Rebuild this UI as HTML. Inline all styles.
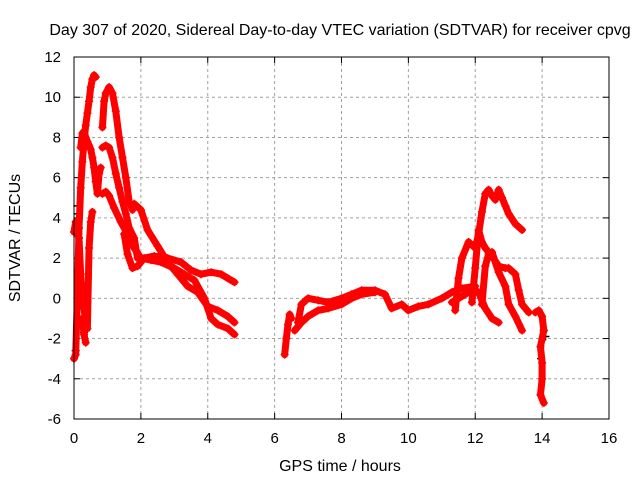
<!DOCTYPE html>
<html><head><meta charset="utf-8"><style>
body{margin:0;background:#fff;}
svg{display:block;font-family:"Liberation Sans",sans-serif;}
</style></head><body>
<svg id="chart" width="640" height="480">
<text x="340" y="35" text-anchor="middle" font-size="16" fill="#000">Day 307 of 2020, Sidereal Day-to-day VTEC variation (SDTVAR) for receiver cpvg</text>
<text x="340" y="471" text-anchor="middle" font-size="16" fill="#000">GPS time / hours</text>
<text transform="translate(20,238) rotate(-90)" text-anchor="middle" font-size="16" fill="#000">SDTVAR / TECUs</text>
<g id="grid"></g><g id="ticks"></g><g id="marks"></g>
<rect x="74" y="57" width="535" height="362" fill="none" stroke="#000" stroke-width="1"/>
</svg>
<script>
const xTicks=[0,2,4,6,8,10,12,14,16];
const yTicks=[-6,-4,-2,0,2,4,6,8,10,12];
// tracks: hours and SDTVAR values
const t1x=[0,0.05,0.1,0.15,0.2,0.25,0.3,0.35,0.4,0.45,0.5,0.55,0.6,0.65];
const t1y=[-3,-2.8,0,3.5,5.5,6.8,7.8,8.6,9.2,9.8,10.5,10.9,11.1,11];
const t2x=[0.2,0.25,0.3,0.35,0.4,0.45,0.5,0.55,0.6,0.65,0.7,0.75,0.8];
const t2y=[7.5,8.2,8.3,8,7.8,7.6,7.4,7,6.5,5.8,5.2,6.2,6.5];
const t3x=[0,0.05,0.1,0.15,0.2,0.25,0.3,0.35,0.4,0.45,0.5,0.55];
const t3y=[3.3,3.8,3.2,3,1.2,0,-0.5,-1.2,-1.5,2.5,3.8,4.3];
const t4x=[0.25,0.3,0.35];
const t4y=[-1,-1.8,-2.2];
const t5x=[0.85,0.9,0.95,1.05,1.15,1.25,1.35,1.45,1.55,1.65,1.75];
const t5y=[8.5,9.8,10.2,10.5,10.2,9.3,8,7,6,4.8,4.4];
const t6x=[0.85,0.95,1.05,1.15,1.25,1.35,1.45,1.55,1.65,1.8,1.9];
const t6y=[7.5,7.6,7.5,7,6.2,5.5,4.8,4.2,3.5,3,2];
const t7x=[0.85,0.95,1.05,1.2,1.4,1.6,1.8,2.0,2.3,2.6,3.0,3.3,3.6,3.9,4.1,4.3,4.6,4.8];
const t7y=[5.2,5.3,5.1,4.5,3.8,3.2,2.5,2,1.9,1.8,1.5,1.2,0.9,0,-1,-1.3,-1.5,-1.8];
const t8x=[1.5,1.6,1.75,1.9,2.1,2.4,2.8,3.2,3.5,3.8,4.1,4.4,4.6,4.8];
const t8y=[3.2,2.2,1.5,1.6,2,2.1,2,1.8,1.4,1.2,1.3,1.2,1,0.8];
const t9x=[1.8,2.0,2.2,2.5,2.8,3.1,3.4,3.7,4.0,4.3,4.6,4.8];
const t9y=[4.7,4.4,3.4,2.6,1.8,1.2,0.6,0.3,-0.4,-0.6,-0.9,-1.2];
const t10x=[6.3,6.35,6.4,6.45,6.5];
const t10y=[-2.8,-2,-1.3,-0.8,-1];
const t11x=[6.7,6.8,7.0,7.3,7.6,8.0,8.3,8.6,9.0,9.3,9.5,9.8,10.0,10.3,10.6,11.0,11.3,11.6,12.0];
const t11y=[-1.2,-0.3,0,-0.1,-0.2,0,0.2,0.4,0.4,0.2,-0.5,-0.3,-0.6,-0.4,-0.3,0,0.3,0.5,0.6];
const t12x=[6.6,6.8,7.0,7.3,7.6,8.0,8.3,8.6,9.0];
const t12y=[-1.6,-1.2,-0.9,-0.6,-0.5,-0.3,0,0.2,0.3];
const t13x=[11.3,11.5,11.7,11.9,12.1,12.3,12.5,12.7];
const t13y=[-0.2,0,0.2,0.4,0.3,-0.5,-1,-1.2];
const t14x=[11.4,11.5,11.6,11.8,12.0,12.1,12.2,12.3,12.4,12.5,12.6,12.7,12.8,12.9,13.0,13.2,13.4];
const t14y=[-0.6,1,2,2.8,2.5,3.2,4.3,5.2,5.4,5.1,4.9,5.4,5,4.6,4.2,3.7,3.4];
const t15x=[11.9,12.0,12.1,12.2,12.3,12.5,12.7,12.9,13.0,13.2,13.3,13.4,13.6];
const t15y=[-0.2,1.5,3.4,2.8,2.5,2.1,1.6,1.5,1.5,1.2,0.4,-0.3,-0.7];
const t16x=[12.2,12.3,12.4,12.5,12.7,12.9,13.0,13.2,13.4];
const t16y=[-0.3,1.6,2.2,2.3,1.3,0.6,-0.3,-0.9,-1.6];
const t17x=[13.8,13.9,14.0,14.05,13.95,14.0,14.0,13.95,14.05];
const t17y=[-0.7,-0.6,-0.9,-1.6,-2.4,-3.2,-4,-4.8,-5.2];
const blackX=[0.1,0.12,0.05,14.1,14.05,0.3,13.97];
const blackY=[4.6,4.2,-2.6,-1.9,-1.6,-1.7,-3];
const tracks=[[t1x,t1y],[t2x,t2y],[t3x,t3y],[t4x,t4y],[t5x,t5y],[t6x,t6y],[t7x,t7y],[t8x,t8y],[t9x,t9y],[t10x,t10y],[t11x,t11y],[t12x,t12y],[t13x,t13y],[t14x,t14y],[t15x,t15y],[t16x,t16y],[t17x,t17y]];
const NS="http://www.w3.org/2000/svg";
const X0=74,X1=609,Y0=419,Y1=57;
function sx(h){return X0+(h-0)/16*(X1-X0);}
function sy(v){return Y0-(v+6)/18*(Y0-Y1);}
function mk(tag,attrs,parent){const e=document.createElementNS(NS,tag);for(const k in attrs)e.setAttribute(k,attrs[k]);parent.appendChild(e);return e;}
const grid=document.getElementById('grid'),ticks=document.getElementById('ticks'),marks=document.getElementById('marks');
xTicks.forEach(t=>{
  const x=sx(t);
  if(t>0&&t<16){const g=mk('line',{x1:x,x2:x,y1:Y1,y2:Y0,stroke:'#a0a0a0','stroke-dasharray':'3,3'},grid);
  
  }
  mk('line',{x1:x,x2:x,y1:Y0,y2:Y0-6,stroke:'#000'},ticks);
  mk('line',{x1:x,x2:x,y1:Y1,y2:Y1+6,stroke:'#000'},ticks);
  const l=mk('text',{x:x,y:443,'text-anchor':'middle','font-size':15},ticks);
  l.textContent=t;
  
  
});
yTicks.forEach(t=>{
  const y=sy(t);
  if(t>-6&&t<12){const g=mk('line',{x1:X0,x2:X1,y1:y,y2:y,stroke:'#a0a0a0','stroke-dasharray':'3,3'},grid);
  
  }
  mk('line',{x1:X0,x2:X0+6,y1:y,y2:y,stroke:'#000'},ticks);
  mk('line',{x1:X1,x2:X1-6,y1:y,y2:y,stroke:'#000'},ticks);
  const l=mk('text',{x:61,y:y+5,'text-anchor':'end','font-size':15},ticks);
  l.textContent=t;
  
  
});
function plus(x,y,c,g){mk('path',{d:`M${x-4},${y}h8M${x},${y-4}v8`,stroke:c,'stroke-width':1.5},g);}
blackX.forEach((h,i)=>{const g=mk('g',{},marks);
  
  
  plus(sx(h),sy(blackY[i]),'#000',g);});
tracks.forEach(([xs,ys])=>{
  const g=mk('g',{},marks);
  
  
  const pts=xs.map((h,i)=>sx(h)+','+sy(ys[i])).join(' ');
  mk('polyline',{points:pts,fill:'none',stroke:'#f00','stroke-width':7,'stroke-linejoin':'round','stroke-linecap':'round'},g);
  xs.forEach((h,i)=>plus(sx(h),sy(ys[i]),'#f00',g));
});
</script>
</body></html>
